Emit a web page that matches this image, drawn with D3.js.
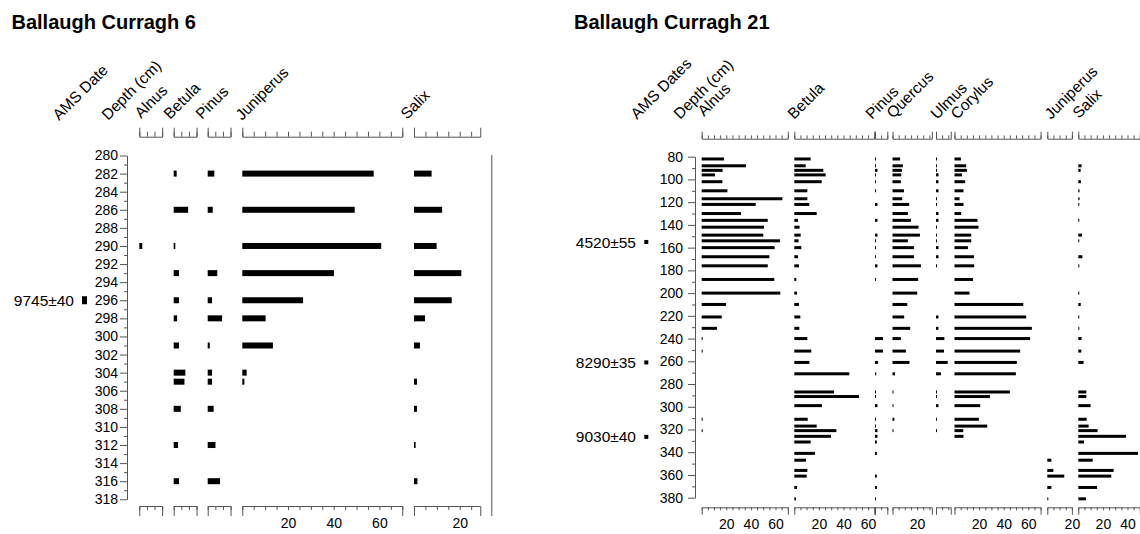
<!DOCTYPE html>
<html>
<head>
<meta charset="utf-8">
<script src="https://cdn.jsdelivr.net/npm/d3@7"></script>
<style>
  body { margin: 0; background: #fff; }
  svg { display: block; font-family: "Liberation Sans", Arial, Helvetica, sans-serif; }
</style>
</head>
<body>
<svg id="chart" width="1140" height="534"></svg>
<script>
// ---------- Ballaugh Curragh 6 : pollen percentages by depth (cm) ----------
const bc6Depths    = [282, 286, 290, 293, 296, 298, 301, 304, 305, 308, 312, 316];
const bc6Alnus     = [0, 0, 1.3, 0, 0, 0, 0, 0, 0, 0, 0, 0];
const bc6Betula    = [1.3, 6.3, 0.7, 2.3, 2.3, 1.5, 2.3, 5.1, 4.7, 3.1, 1.9, 2.3];
const bc6Pinus     = [2.9, 2.2, 0, 4.2, 1.9, 6.3, 0.9, 1.9, 1.9, 2.6, 3.4, 5.4];
const bc6Juniperus = [57.5, 49.2, 60.8, 40.1, 26.6, 10.2, 13.4, 1.9, 0.9, 0, 0, 0];
const bc6Salix     = [7.7, 12.3, 9.9, 20.7, 16.5, 4.8, 2.6, 0, 1.3, 1.3, 0.7, 1.5];
const bc6DateLabels = ["9745±40"];
const bc6DateDepths = [296];
const bc6DepthTicks = d3.range(280, 319, 2);
const bc6DepthMinor = d3.range(281, 318, 2);

// ---------- Ballaugh Curragh 21 ----------
const bc21Depths = [82, 88, 92, 96, 102, 110, 117, 122, 130, 136, 142, 149, 154, 160, 168, 176, 188, 200, 210, 221,
                    231, 240, 251, 261, 271, 287, 291, 299, 311, 317, 321, 326, 331, 341, 347, 356, 361, 371, 381];
const bc21Alnus = [18.1, 36, 17, 10.8, 16.8, 20.9, 65.6, 43.9, 32, 53.7, 50.7, 50.1, 63.7, 59.3, 55, 53.7, 59, 63.9, 19.8, 16.3,
                   12.4, 0.8, 0.8, 0, 0, 0, 0, 0, 0.8, 0, 0.8, 0, 0, 0, 0, 0, 0, 0, 0];
const bc21Betula = [13.3, 9.3, 23.6, 25.5, 22.3, 10.6, 10.6, 12.2, 18.2, 3, 4.3, 5.2, 3.5, 5.7, 3, 3.8, 1.6, 2.2, 3.8, 4.9,
                    4.1, 10.6, 13.8, 12.2, 44.7, 32.3, 52.6, 22.5, 10.9, 18.2, 34.2, 29.8, 13.3, 16.8, 9.5, 10.6, 10.1, 2.2, 1.4];
const bc21Pinus = [0.8, 0.8, 2, 0.8, 0.8, 0.8, 0, 2, 0, 2, 0, 2, 0.8, 0.8, 0.8, 2, 0.8, 0, 0, 0,
                   0, 6.5, 6.5, 2.4, 1, 0.8, 0.8, 2, 0.8, 0.8, 2, 2, 1.5, 1.5, 0, 0, 1.5, 1.5, 0.8];
const bc21Quercus = [6.2, 8.4, 7.6, 7.1, 6.8, 9.3, 7.9, 13.6, 12.5, 15, 21.1, 22.3, 12.5, 17.4, 17.4, 23.1, 20.9, 20.1, 12, 9.5,
                     14.4, 6.8, 10.9, 13.8, 2, 0.8, 0, 0.8, 1.5, 0, 0.8, 0, 0, 0, 0, 0, 0, 0, 0];
const bc21Ulmus = [0.8, 0.8, 0.8, 2, 2, 2, 0.8, 0.8, 2, 2, 0.8, 0.8, 0.8, 2, 2, 0.8, 0, 0, 0, 2,
                   2, 6.8, 6.5, 9.5, 4, 0.8, 0.8, 2, 0.8, 0, 0.8, 0, 0, 0, 0, 0, 0, 0, 0];
const bc21Corylus = [5.2, 9.5, 10.1, 6, 8.7, 7.3, 4.1, 7.3, 5.4, 18.7, 19.5, 13.6, 13.6, 10.9, 15.8, 16, 15, 12.2, 55.9, 58.3,
                     62.9, 61.5, 53.4, 50.7, 49.9, 45, 28.8, 20.9, 19.8, 26.6, 7.1, 7.3, 0, 0, 0, 0, 0, 0, 0];
const bc21Juniperus = [0, 0, 0, 0, 0, 0, 0, 0, 0, 0, 0, 0, 0, 0, 0, 0, 0, 0, 0, 0,
                       0, 0, 0, 0, 0, 0, 0, 0, 0, 0, 0, 0, 0, 0, 3.3, 4.9, 13.8, 3.3, 0.8];
const bc21Salix = [0, 2.7, 1.9, 0, 2.2, 1, 1, 0.8, 0, 0.8, 0, 3, 0.8, 0, 3.3, 0.8, 0, 0.8, 2, 0.8,
                   0.8, 2.7, 2.4, 4.3, 0, 6.5, 6.5, 10, 6.8, 8.4, 15.7, 38.8, 4.6, 48.5, 11.7, 28.7, 26.8, 15.2, 6.2];
const bc21DateLabels = ["4520±55", "8290±35", "9030±40"];
const bc21DateDepths = [155, 261, 326.5];
const bc21DepthTicks = d3.range(80, 381, 20);
const bc21DepthMinor = d3.range(90, 380, 20);

// ---------- layout of the two diagrams ----------
const diagrams = [
  {
    title: "Ballaugh Curragh 6", titleX: 11.5,
    depths: bc6Depths, depthDomain: [280, 318], depthRange: [155.5, 499.3],
    majorTicks: bc6DepthTicks, minorTicks: bc6DepthMinor,
    axisX: 127, tickPad: 2,
    pxPerPct: 2.285, barH: 6,
    topY: 136.7, topInner: 5, topOuter: 9,
    bottomY: 506, bottomInner: 4, bottomOuter: 10,
    dateLabels: bc6DateLabels, dateDepths: bc6DateDepths,
    dateTextX: 74, dateMark: { x: 82, w: 5, h: 8 },
    headers: [ { text: "AMS Date", x: 59, y: 121 }, { text: "Depth (cm)", x: 108, y: 121 } ],
    taxa: [
      { name: "Alnus",     values: bc6Alnus,     max: 10, step: 10 / 3, x0: 139.3, lx: 141, ly: 119 },
      { name: "Betula",    values: bc6Betula,    max: 10, step: 10 / 3, x0: 173.7, lx: 170, ly: 120 },
      { name: "Pinus",     values: bc6Pinus,     max: 10, step: 10 / 3, x0: 207.7, lx: 202, ly: 120 },
      { name: "Juniperus", values: bc6Juniperus, max: 70, step: 5,      x0: 242.3, lx: 242, ly: 121 },
      { name: "Salix",     values: bc6Salix,     max: 29, step: 5,      x0: 414,   lx: 407, ly: 120 }
    ],
    rightRule: { x: 491.7, y1: 155, y2: 516 }
  },
  {
    title: "Ballaugh Curragh 21", titleX: 574,
    depths: bc21Depths, depthDomain: [80, 380], depthRange: [156.7, 497.7],
    majorTicks: bc21DepthTicks, minorTicks: bc21DepthMinor,
    axisX: 695, tickPad: 5,
    pxPerPct: 1.23, barH: 3,
    topY: 138.7, topInner: 3.3, topOuter: 7,
    bottomY: 507.3, bottomInner: 3, bottomOuter: 7.5,
    dateLabels: bc21DateLabels, dateDepths: bc21DateDepths,
    dateTextX: 636, dateMark: { x: 644.3, w: 4, h: 4 },
    headers: [ { text: "AMS Dates", x: 637, y: 120 }, { text: "Depth (cm)", x: 680, y: 120 } ],
    taxa: [
      { name: "Alnus",     values: bc21Alnus,     max: 70, step: 5, x0: 701.7,  lx: 704,  ly: 117 },
      { name: "Betula",    values: bc21Betula,    max: 65, step: 5, x0: 794.3,  lx: 794,  ly: 120 },
      { name: "Pinus",     values: bc21Pinus,     max: 10, step: 5, x0: 875,    lx: 872,  ly: 120 },
      { name: "Quercus",   values: bc21Quercus,   max: 32, step: 5, x0: 892.5,  lx: 893,  ly: 119 },
      { name: "Ulmus",     values: bc21Ulmus,     max: 12, step: 5, x0: 936,    lx: 937,  ly: 120 },
      { name: "Corylus",   values: bc21Corylus,   max: 70, step: 5, x0: 954.5,  lx: 957,  ly: 120 },
      { name: "Juniperus", values: bc21Juniperus, max: 20, step: 5, x0: 1047.3, lx: 1051, ly: 120 },
      { name: "Salix",     values: bc21Salix,     max: 50, step: 5, x0: 1078.3, lx: 1079, ly: 119 }
    ],
    rightRule: null
  }
];

const svg = d3.select("#chart");
const FONT = '"Liberation Sans", Arial, Helvetica, sans-serif';
const AXIS_COLOR = "#555";

function styleAxis(sel) {
  sel.attr("font-family", FONT).attr("font-size", 14).attr("color", AXIS_COLOR);
  sel.selectAll("text").attr("fill", "#000");
}

function drawDiagram(cfg) {
  const g = svg.append("g");

  g.append("text")
    .attr("x", cfg.titleX).attr("y", 29)
    .attr("font-size", 20).attr("font-weight", "bold")
    .text(cfg.title);

  const y = d3.scaleLinear().domain(cfg.depthDomain).range(cfg.depthRange);

  // depth axis: labelled major ticks plus short unlabelled minor ticks
  g.append("g")
    .attr("transform", `translate(${cfg.axisX},0)`)
    .call(d3.axisLeft(y).tickValues(cfg.majorTicks).tickSizeInner(7).tickSizeOuter(0)
      .tickPadding(cfg.tickPad).tickFormat(d3.format("d")))
    .call(styleAxis);
  g.append("g")
    .attr("transform", `translate(${cfg.axisX},0)`)
    .call(d3.axisLeft(y).tickValues(cfg.minorTicks).tickSizeInner(3).tickSizeOuter(0).tickFormat(""))
    .call(styleAxis);

  // column headers, slanted
  const headerData = cfg.headers.concat(cfg.taxa.map(t => ({ text: t.name, x: t.lx, y: t.ly })));
  g.append("g").selectAll("text").data(headerData).join("text")
    .attr("transform", d => `translate(${d.x},${d.y}) rotate(-45)`)
    .attr("font-size", 15.5)
    .text(d => d.text);

  // radiocarbon dates
  const dates = cfg.dateLabels.map((lab, i) => ({ lab, depth: cfg.dateDepths[i] }));
  g.append("g").selectAll("text").data(dates).join("text")
    .attr("x", cfg.dateTextX).attr("y", d => y(d.depth)).attr("dy", "0.36em")
    .attr("text-anchor", "end").attr("font-size", 15.5)
    .text(d => d.lab);
  g.append("g").selectAll("rect").data(dates).join("rect")
    .attr("x", cfg.dateMark.x).attr("width", cfg.dateMark.w)
    .attr("y", d => y(d.depth) - cfg.dateMark.h / 2).attr("height", cfg.dateMark.h)
    .attr("fill", "#000");

  // one column per taxon
  cfg.taxa.forEach(t => {
    const x = d3.scaleLinear().domain([0, t.max]).range([t.x0, t.x0 + t.max * cfg.pxPerPct]);
    const ticks = d3.range(0, t.max + 1e-6, t.step);

    g.append("g")
      .attr("transform", `translate(0,${cfg.topY})`)
      .call(d3.axisTop(x).tickValues(ticks).tickSizeInner(cfg.topInner).tickSizeOuter(cfg.topOuter).tickFormat(""))
      .call(styleAxis);

    g.append("g")
      .attr("transform", `translate(0,${cfg.bottomY})`)
      .call(d3.axisBottom(x).tickValues(ticks).tickSizeInner(cfg.bottomInner).tickSizeOuter(cfg.bottomOuter)
        .tickPadding(12 - cfg.bottomInner)
        .tickFormat(d => (d > 0 && Math.abs(d % 20) < 1e-6) ? d3.format("d")(d) : ""))
      .call(styleAxis);

    const rows = cfg.depths.map((depth, i) => ({ depth, v: t.values[i] })).filter(r => r.v > 0);
    g.append("g").selectAll("rect").data(rows).join("rect")
      .attr("x", x(0))
      .attr("width", r => x(r.v) - x(0))
      .attr("y", r => y(r.depth) - cfg.barH / 2)
      .attr("height", cfg.barH)
      .attr("fill", "#000");
  });

  if (cfg.rightRule) {
    g.append("line")
      .attr("x1", cfg.rightRule.x).attr("x2", cfg.rightRule.x)
      .attr("y1", cfg.rightRule.y1).attr("y2", cfg.rightRule.y2)
      .attr("stroke", "#888").attr("stroke-width", 1.5);
  }
}

diagrams.forEach(drawDiagram);
</script>
</body>
</html>
